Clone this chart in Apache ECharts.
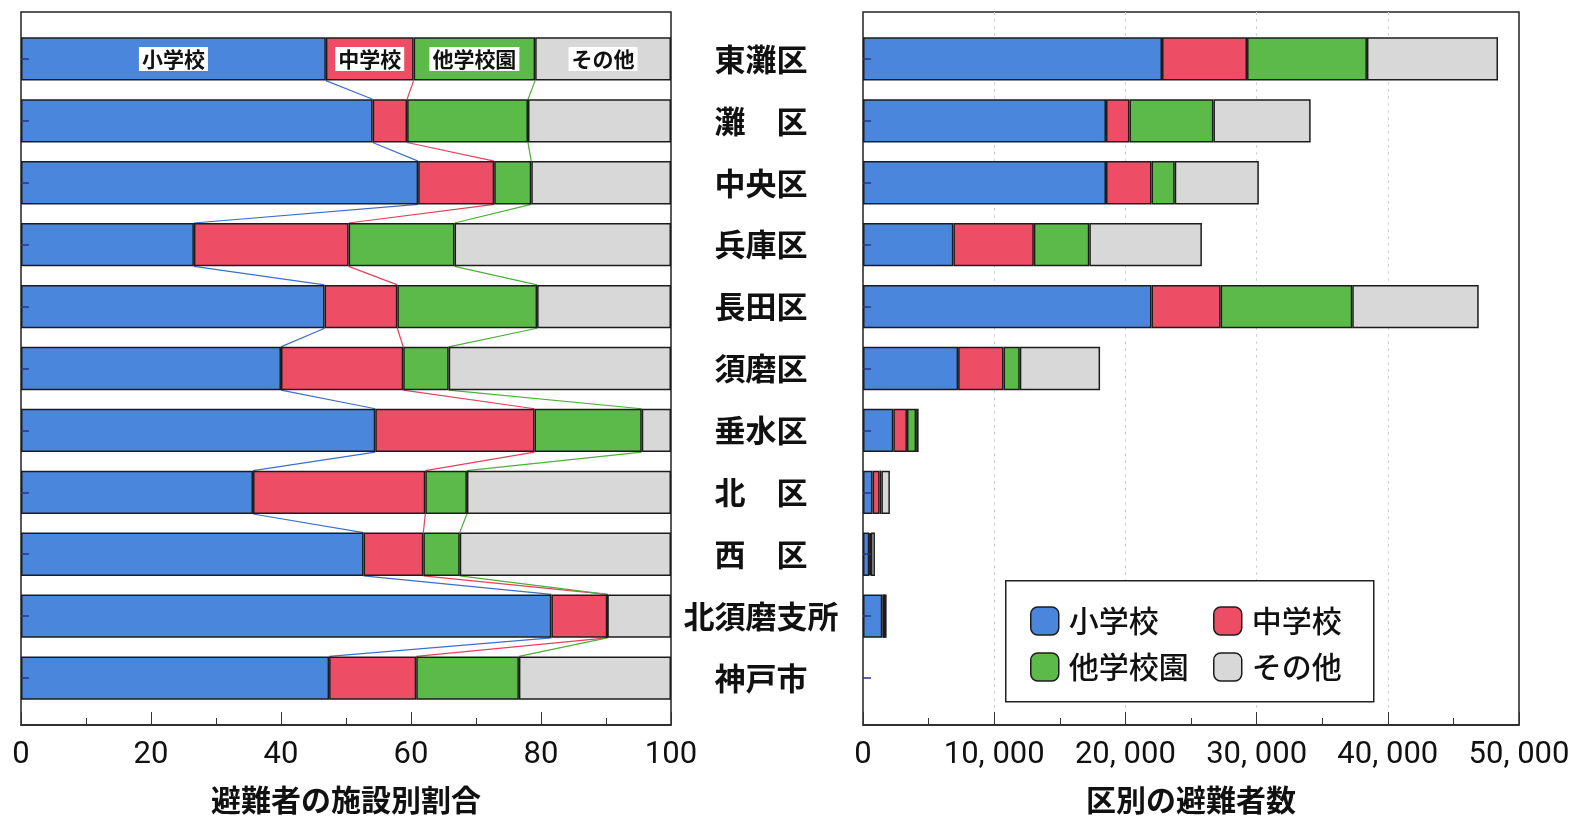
<!DOCTYPE html>
<html>
<head>
<meta charset="utf-8">
<script src="https://cdn.jsdelivr.net/npm/echarts@6/dist/echarts.min.js"></script>
<style>
html,body{margin:0;padding:0;background:#fff;}
#chart{width:1572px;height:819px;}
</style>
</head>
<body>
<div id="chart"></div>
<script>
// ---- data ----
const categories = ['東灘区','灘　区','中央区','兵庫区','長田区','須磨区','垂水区','北　区','西　区','北須磨支所','神戸市'];
const seriesNames = ['小学校','中学校','他学校園','その他'];

// share of evacuees by facility (%)
const shareElementary  = [46.9, 54.1, 61.1, 26.6, 46.7, 40.0, 54.5, 35.7, 52.7, 81.6, 47.4];
const shareJunior      = [13.5,  5.3, 11.7, 23.8, 11.2, 18.8, 24.5, 26.5,  9.2,  8.6, 13.4];
const shareOtherSchool = [18.7, 18.6,  5.7, 16.3, 21.5,  7.0, 16.5,  6.4,  5.6,  0.0, 15.8];
const shareOther       = [20.9, 22.0, 21.5, 33.3, 20.6, 34.2,  4.5, 31.4, 32.5,  9.8, 23.4];

// number of evacuees by ward (persons); 神戸市 not drawn
const countElementary  = [22790, 18520, 18520, 6890, 21990, 7250, 2310, 730, 480, 1470, null];
const countJunior      = [ 6480,  1790,  3470, 6130,  5270, 3460, 1040, 540,  80,  150, null];
const countOtherSchool = [ 9140,  6400,  1770, 4230, 10030, 1240,  700, 130,  50,    0, null];
const countOther       = [ 9990,  7410,  6410, 8580,  9640, 6120,  190, 650, 300,  180, null];

const shareTicks = [0, 20, 40, 60, 80, 100];
const countTicks = [0, 10000, 20000, 30000, 40000, 50000];

// ---- style ----
const colors = ['#4a86dc', '#ee4d66', '#5cba48', '#d8d8d8'];
const lineColors = ['#3f6fc4', '#e8405c', '#4fae3c'];
const borderCol = '#1c1c1c';
const digitFont = '"Liberation Sans Narrow", Roboto, sans-serif';
const jpFont = '"Noto Sans CJK JP", "Noto Sans CJK SC", sans-serif';
const BAR_RATIO = 0.70;

const shares = [shareElementary, shareJunior, shareOtherSchool, shareOther];
const counts = [countElementary, countJunior, countOtherSchool, countOther];

// cumulative boundaries for connector lines
const cum = [];
for (let b = 0; b < 3; b++) {
  cum.push(categories.map((_, i) => {
    let s = 0;
    for (let k = 0; k <= b; k++) s += shares[k][i];
    return s;
  }));
}
const connectorData = [];
for (let b = 0; b < 3; b++) {
  for (let i = 0; i < categories.length - 1; i++) {
    connectorData.push([cum[b][i], i, cum[b][i + 1], i + 1, b]);
  }
}

const chart = echarts.init(document.getElementById('chart'), null, {renderer: 'canvas'});

const series = [];
seriesNames.forEach((name, s) => {
  series.push({
    name: name,
    type: 'bar',
    xAxisIndex: 1, yAxisIndex: 1,
    stack: 'share',
    barWidth: (BAR_RATIO * 100) + '%',
    itemStyle: {color: colors[s], borderColor: borderCol, borderWidth: 1.5},
    data: shares[s].map((v, i) => i === 0 ? {
      value: v,
      label: {
        show: true, position: 'inside', formatter: '{a}',
        backgroundColor: '#fff', padding: [2, 3, 1, 3],
        color: '#111', fontSize: 21, fontFamily: jpFont, fontWeight: 'bold'
      }
    } : v),
    z: 3
  });
});
seriesNames.forEach((name, s) => {
  series.push({
    name: name,
    type: 'bar',
    xAxisIndex: 3, yAxisIndex: 3,
    stack: 'count',
    barWidth: (BAR_RATIO * 100) + '%',
    itemStyle: {color: colors[s], borderColor: borderCol, borderWidth: 1.5},
    data: counts[s],
    z: 3
  });
});
series.push({
  type: 'custom',
  xAxisIndex: 1, yAxisIndex: 1,
  encode: {x: [0, 2], y: [1, 3]},
  silent: true,
  z: 2,
  renderItem: function (params, api) {
    const p1 = api.coord([api.value(0), api.value(1)]);
    const p2 = api.coord([api.value(2), api.value(3)]);
    const half = api.size([0, 1])[1] * BAR_RATIO / 2;
    return {
      type: 'line',
      shape: {x1: p1[0], y1: p1[1] + half, x2: p2[0], y2: p2[1] - half},
      style: {stroke: lineColors[api.value(4)], lineWidth: 1.2}
    };
  },
  data: connectorData
});

const W = 1572, H = 819;
const L1 = 21, R1 = 671, L2 = 863, R2 = 1519;
const BOX_TOP = 12, BOX_BOT = 725, CAT_TOP = 28, CAT_BOT = 709;

const gridBase = {outerBoundsMode: 'none', containLabel: false};

const option = {
  backgroundColor: '#fff',
  animation: false,
  color: colors,
  grid: [
    Object.assign({left: L1, right: W - R1, top: BOX_TOP, bottom: H - BOX_BOT, show: true, borderColor: '#222', borderWidth: 1.5, backgroundColor: 'transparent'}, gridBase),
    Object.assign({left: L1, right: W - R1, top: CAT_TOP, bottom: H - CAT_BOT}, gridBase),
    Object.assign({left: L2, right: W - R2, top: BOX_TOP, bottom: H - BOX_BOT, show: true, borderColor: '#222', borderWidth: 1.5, backgroundColor: 'transparent'}, gridBase),
    Object.assign({left: L2, right: W - R2, top: CAT_TOP, bottom: H - CAT_BOT}, gridBase)
  ],
  xAxis: [
    {
      gridIndex: 0, type: 'value', min: shareTicks[0], max: shareTicks[shareTicks.length - 1],
      interval: shareTicks[1] - shareTicks[0],
      axisLine: {show: true, lineStyle: {color: '#222', width: 1.5}},
      axisTick: {show: true, inside: true, length: 13, lineStyle: {color: '#333', width: 1}},
      minorTick: {show: true, splitNumber: 2, length: 7, lineStyle: {color: '#333', width: 1}},
      splitLine: {show: false},
      axisLabel: {fontSize: 31, color: '#111', fontFamily: digitFont, margin: 15},
      name: '避難者の施設別割合', nameLocation: 'middle', nameGap: 60,
      nameTextStyle: {fontSize: 30, color: '#111', fontFamily: jpFont, fontWeight: 'bold'}
    },
    {gridIndex: 1, type: 'value', min: 0, max: 100, show: false},
    {
      gridIndex: 2, type: 'value', min: countTicks[0], max: countTicks[countTicks.length - 1],
      interval: countTicks[1] - countTicks[0],
      axisLine: {show: true, lineStyle: {color: '#222', width: 1.5}},
      axisTick: {show: true, inside: true, length: 13, lineStyle: {color: '#333', width: 1}},
      minorTick: {show: true, splitNumber: 2, length: 7, lineStyle: {color: '#333', width: 1}},
      splitLine: {show: true, showMinLine: false, showMaxLine: false, lineStyle: {color: '#d4d4d4', width: 1, type: [3, 4]}},
      axisLabel: {
        fontSize: 31, color: '#111', fontFamily: digitFont, margin: 15, hideOverlap: false,
        formatter: v => v === 0 ? '0' : (Math.floor(v / 1000)) + ', ' + String(v % 1000).padStart(3, '0')
      },
      name: '区別の避難者数', nameLocation: 'middle', nameGap: 60,
      nameTextStyle: {fontSize: 30, color: '#111', fontFamily: jpFont, fontWeight: 'bold'}
    },
    {gridIndex: 3, type: 'value', min: 0, max: 50000, show: false}
  ],
  yAxis: [
    {gridIndex: 0, type: 'value', show: false},
    {
      gridIndex: 1, type: 'category', inverse: true, data: categories, z: 10,
      axisLine: {show: false},
      axisTick: {show: true, inside: true, alignWithLabel: true, length: 8, lineStyle: {color: '#27358c', width: 1.5}},
      axisLabel: {show: false}
    },
    {gridIndex: 2, type: 'value', show: false},
    {
      gridIndex: 3, type: 'category', inverse: true, data: categories, z: 10,
      axisLine: {show: false},
      axisTick: {show: true, inside: true, alignWithLabel: true, length: 8, lineStyle: {color: '#27358c', width: 1.5}},
      axisLabel: {
        show: true, interval: 0, margin: L2 - 761, align: 'center',
        fontSize: 31, fontWeight: 'bold', color: '#111', fontFamily: jpFont
      }
    }
  ],
  legend: [
    {
      data: ['小学校', '他学校園'], orient: 'vertical', left: 1030, top: 606, padding: 0,
      itemWidth: 28, itemHeight: 28, itemGap: 16, z: 20,
      textStyle: {fontSize: 30, color: '#111', fontFamily: jpFont, fontWeight: 500, padding: [0, 0, 0, 5]},
      itemStyle: {borderColor: borderCol, borderWidth: 1.5},
      selectedMode: false
    },
    {
      data: ['中学校', 'その他'], orient: 'vertical', left: 1213, top: 606, padding: 0,
      itemWidth: 28, itemHeight: 28, itemGap: 16, z: 20,
      textStyle: {fontSize: 30, color: '#111', fontFamily: jpFont, fontWeight: 500, padding: [0, 0, 0, 5]},
      itemStyle: {borderColor: borderCol, borderWidth: 1.5},
      selectedMode: false
    }
  ],
  graphic: [
    {
      type: 'rect', z: 15, left: 1005, top: 580,
      shape: {width: 368, height: 121},
      style: {fill: '#fff', stroke: '#222', lineWidth: 1.5}
    }
  ],
  series: series
};
chart.setOption(option);
</script>
</body>
</html>
